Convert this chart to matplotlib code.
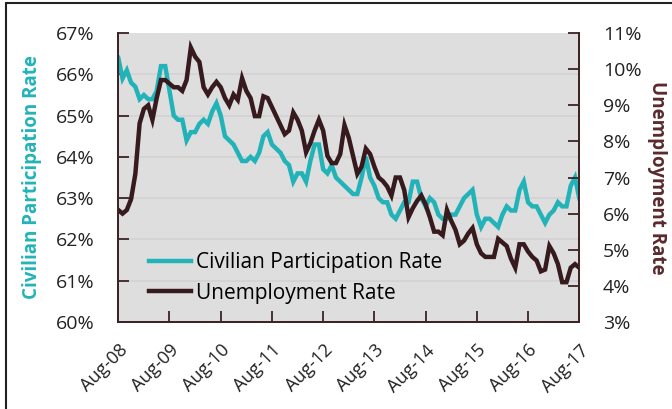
import matplotlib
matplotlib.use('Agg')
import matplotlib.pyplot as plt
from matplotlib.patches import Rectangle

# monthly values, Aug-08 .. Aug-17
participation = [66.4, 65.9, 66.1, 65.8, 65.7, 65.4, 65.5, 65.4, 65.4, 65.6,
                 66.2, 66.2, 65.6, 65.0, 64.9, 64.9, 64.4, 64.6, 64.6, 64.8,
                 64.9, 64.8, 65.1, 65.3, 65.0, 64.5, 64.4, 64.3, 64.1, 63.9,
                 63.9, 64.0, 63.9, 64.1, 64.5, 64.6, 64.3, 64.2, 64.1, 63.9,
                 63.8, 63.4, 63.6, 63.6, 63.4, 63.9, 64.3, 64.3, 63.7, 63.6,
                 63.8, 63.5, 63.4, 63.3, 63.2, 63.1, 63.1, 63.5, 64.0, 63.5,
                 63.3, 63.0, 62.9, 62.9, 62.6, 62.5, 62.7, 62.9, 62.9, 63.4,
                 63.4, 63.0, 62.8, 63.0, 62.9, 62.6, 62.5, 62.5, 62.6, 62.6,
                 62.8, 63.0, 63.1, 63.2, 62.6, 62.3, 62.5, 62.5, 62.4, 62.3,
                 62.6, 62.8, 62.7, 62.7, 63.2, 63.4, 62.9, 62.8, 62.8, 62.6,
                 62.4, 62.6, 62.7, 62.9, 62.8, 62.8, 63.3, 63.5, 63.0]
unemployment = [6.1, 6.0, 6.1, 6.4, 7.1, 8.5, 8.9, 9.0, 8.6, 9.2,
                9.7, 9.7, 9.6, 9.5, 9.5, 9.4, 9.7, 10.6, 10.35, 10.2,
                9.5, 9.3, 9.5, 9.65, 9.5, 9.2, 9.0, 9.3, 9.15, 9.75,
                9.4, 9.2, 8.7, 8.7, 9.25, 9.2, 8.95, 8.7, 8.45, 8.2,
                8.3, 8.8, 8.6, 8.3, 7.7, 7.95, 8.3, 8.6, 8.3, 7.6,
                7.4, 7.4, 7.65, 8.45, 8.1, 7.6, 7.1, 7.3, 7.8, 7.65,
                7.3, 7.0, 6.9, 6.75, 6.5, 7.0, 7.0, 6.65, 5.9, 6.15,
                6.35, 6.5, 6.25, 5.9, 5.5, 5.5, 5.4, 6.1, 5.8, 5.55,
                5.15, 5.25, 5.45, 5.6, 5.15, 4.9, 4.8, 4.8, 4.8, 5.3,
                5.2, 5.1, 4.75, 4.5, 5.15, 5.15, 4.95, 4.8, 4.7, 4.4,
                4.45, 5.1, 4.9, 4.6, 4.1, 4.1, 4.5, 4.6, 4.5]
tick_labels = ['Aug-08', 'Aug-09', 'Aug-10', 'Aug-11', 'Aug-12',
               'Aug-13', 'Aug-14', 'Aug-15', 'Aug-16', 'Aug-17']
left_ticks = [60, 61, 62, 63, 64, 65, 66, 67]
right_ticks = [3, 4, 5, 6, 7, 8, 9, 10, 11]

teal = '#22b3b8'
brown = '#361a1e'
spine_c = '#3d2326'

plt.rcParams['font.family'] = ['Open Sans', 'DejaVu Sans']

fig = plt.figure(figsize=(6.72, 4.09), dpi=100)
ax = fig.add_axes([0.176, 0.213, 0.686, 0.706])
ax.set_facecolor('#dedede')
x = list(range(len(participation)))

for v in left_ticks[1:-1]:
    ax.axhline(v, color='#d2d2d2', lw=1.2, zorder=0)

l1, = ax.plot(x, participation, color=teal, lw=3.2, solid_joinstyle='miter')
ax.set_ylim(60, 67)
ax.set_xlim(0, 108)
ax.set_yticks(left_ticks)
ax.set_yticklabels(['%d%%' % v for v in left_ticks])
ax.set_xticks(range(0, 109, 12))
ax.set_xticklabels(tick_labels, rotation=45, ha='right', rotation_mode='anchor')
ax.tick_params(axis='y', direction='in', length=8, width=1.3, color=spine_c,
               labelsize=14, pad=17, labelcolor='#222222')
ax.tick_params(axis='x', direction='in', length=8, width=1.3, color=spine_c,
               labelsize=13, pad=14, labelcolor='#222222')
ax.set_ylabel('Civilian Participation Rate', color=teal, fontsize=13.5,
              fontweight='bold', labelpad=10)

ax2 = ax.twinx()
l2, = ax2.plot(x, unemployment, color=brown, lw=3.2, solid_joinstyle='miter')
ax2.set_ylim(3, 11)
ax2.set_yticks(right_ticks)
ax2.set_yticklabels(['%d%%' % v for v in right_ticks])
ax2.tick_params(axis='y', direction='in', length=8, width=1.3, color=spine_c,
                labelsize=14, pad=17, labelcolor='#222222')
ax2.set_ylabel('Unemployment Rate', color='#5a2a2c', fontsize=13.5,
               fontweight='bold', rotation=270, labelpad=18)

for a in (ax, ax2):
    a.spines['top'].set_visible(False)
    for s in ('left', 'right', 'bottom'):
        a.spines[s].set_color(spine_c)
        a.spines[s].set_linewidth(1.3)

ax.legend([l1, l2], ['Civilian Participation Rate', 'Unemployment Rate'],
          loc='lower left', bbox_to_anchor=(0.04, 0.02), frameon=False,
          fontsize=15, handlelength=2.0, handletextpad=0.25, labelspacing=0.45,
          borderaxespad=0.2)

fig.patches.append(Rectangle((0.009, -0.05), 1.2, 1.042, transform=fig.transFigure,
                             fill=False, edgecolor='#222222', lw=1.5))

fig.savefig('out.png', dpi=100)
